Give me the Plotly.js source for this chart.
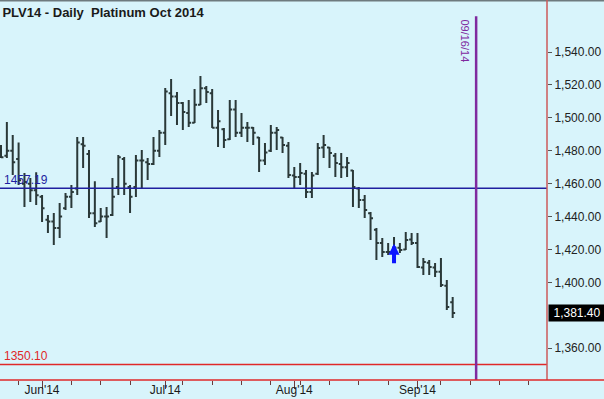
<!DOCTYPE html>
<html><head><meta charset="utf-8">
<script src="https://cdn.plot.ly/plotly-3.0.1.min.js"></script>
<style>html,body{margin:0;padding:0;background:#d8f4fb;}#chart{width:604px;height:399px;}</style>
</head><body><div id="chart"></div>
<script>
// Trading days shown (May 21 – Sep 10, 2014)
const dates = [
 "2014-05-21","2014-05-22","2014-05-23","2014-05-27","2014-05-28","2014-05-29","2014-05-30",
 "2014-06-02","2014-06-03","2014-06-04","2014-06-05","2014-06-06","2014-06-09","2014-06-10","2014-06-11","2014-06-12","2014-06-13",
 "2014-06-16","2014-06-17","2014-06-18","2014-06-19","2014-06-20","2014-06-23","2014-06-24","2014-06-25","2014-06-26","2014-06-27","2014-06-30",
 "2014-07-01","2014-07-02","2014-07-03","2014-07-07","2014-07-08","2014-07-09","2014-07-10","2014-07-11","2014-07-14","2014-07-15","2014-07-16",
 "2014-07-17","2014-07-18","2014-07-21","2014-07-22","2014-07-23","2014-07-24","2014-07-25","2014-07-28","2014-07-29","2014-07-30","2014-07-31",
 "2014-08-01","2014-08-04","2014-08-05","2014-08-06","2014-08-07","2014-08-08","2014-08-11","2014-08-12","2014-08-13","2014-08-14","2014-08-15",
 "2014-08-18","2014-08-19","2014-08-20","2014-08-21","2014-08-22","2014-08-25","2014-08-26","2014-08-27","2014-08-28","2014-08-29",
 "2014-09-02","2014-09-03","2014-09-04","2014-09-05","2014-09-08","2014-09-09","2014-09-10"
];
const highs = [1483.5,1497.5,1489.6,1485.0,1466.5,1463.5,1467.0,1453.1,1441.0,1442.2,1448.3,1454.3,1459.2,1488.4,1488.4,1480.5,
 1461.5,1445.2,1445.8,1463.5,1477.4,1476.2,1459.2,1477.4,1480.5,1475.6,1488.4,1492.6,1518.1,1523.6,1515.7,1509.6,
 1510.8,1517.5,1525.4,1519.3,1517.5,1504.8,1493.8,1510.8,1510.8,1502.9,1497.5,1494.4,1488.4,1484.7,1495.6,1494.4,
 1488.4,1485.3,1470.1,1472.6,1468.3,1467.1,1484.7,1489.6,1482.3,1478.6,1478.6,1476.2,1468.3,1458.0,1453.1,1442.8,
 1433.1,1427.0,1424.0,1427.6,1424.0,1430.7,1430.0,1430.0,1414.9,1413.6,1411.8,1414.9,1401.5,1391.2];
const lows = [1475.6,1475.6,1465.3,1459.2,1445.8,1448.9,1447.0,1436.7,1430.0,1422.8,1427.0,1444.0,1445.2,1453.1,1469.5,1439.2,
 1433.7,1436.7,1427.0,1440.4,1453.1,1453.1,1442.2,1451.9,1457.4,1462.2,1471.4,1476.2,1483.5,1501.1,1495.6,1492.6,
 1494.4,1496.9,1507.8,1509.0,1493.8,1482.3,1481.7,1486.5,1488.4,1488.4,1485.3,1483.5,1467.1,1471.4,1479.3,1480.5,
 1478.6,1463.5,1457.4,1459.2,1451.3,1451.3,1465.3,1475.6,1469.5,1464.1,1463.5,1464.1,1445.8,1445.2,1439.2,1425.8,
 1413.6,1415.5,1416.7,1417.9,1417.9,1419.7,1422.8,1408.8,1404.5,1404.5,1403.3,1397.2,1383.3,1378.4];
const closes = [1476,1480,1473,1462,1461,1456,1453,1445,1437,1433,1440,1452,1455,1485,1483,1442,
 1436,1440,1440,1452,1476,1460,1452,1474,1474,1472,1480,1491,1516,1513,1509,1503.5,
 1497,1508,1518,1515.7,1494,1498,1486.5,1505,1491,1494,1494,1491,1474,1479,1491,1492.6,
 1483.5,1465.3,1464,1466.5,1455,1465,1481.7,1483.5,1478.6,1472.6,1470,1472.6,1458,1450,1444,1439,
 1424,1418.5,1418.5,1421,1419.7,1425.8,1424,1409.4,1412.4,1409.4,1406.5,1398.5,1385,1381.4];
const opens = [1480,1477,1480,1475,1460,1460,1456,1452,1438,1437,1433,1445,1452,1457,1484,1478,
 1442,1437,1440,1441,1458,1475,1458,1458,1474,1473,1472,1480,1491,1515,1513,1509,
 1503,1497,1508,1518,1515,1494,1493,1487,1505,1491,1494,1494,1488,1474,1480,1491,
 1488,1483,1465,1464,1466,1455,1466,1482,1482,1477,1472,1470,1468,1457,1450,1442,
 1432,1424,1418.5,1418.5,1421,1420,1426,1424,1409,1412,1409,1406.5,1398,1388];

const monthTickIdx = [7, 28, 50, 71];
const monthTickLabels = ["Jun'14", "Jul'14", "Aug'14", "Sep'14"];
const weekTickIdx = [3, 12, 17, 22, 31, 36, 41, 46, 51, 56, 61, 66, 75, 80, 85, 90];
const priceTicks = [1360, 1400, 1420, 1440, 1460, 1480, 1500, 1520, 1540];
const levelBlue = 1457.19;
const levelRed = 1350.10;
const lastPrice = 1381.40;
const markerLineIdx = 81;
const markerLineLabel = "09/16/14";
const arrowIdx = 67;
const arrowPrice = 1423.5;
const titleText = "PLV14 - Daily  Platinum Oct 2014";

const xIdx = dates.map((d, i) => i);
const FONT = "Arial, 'Liberation Sans', sans-serif";
const BG = "#d8f4fb";

const trace = {
  type: "ohlc", x: xIdx, open: opens, high: highs, low: lows, close: closes,
  increasing: {line: {color: "#2a3838", width: 2}},
  decreasing: {line: {color: "#2a3838", width: 2}},
  tickwidth: 0.42, hoverinfo: "skip", showlegend: false
};

const layout = {
  width: 604, height: 399,
  margin: {l: 0, r: 57, t: 0, b: 19, pad: 0},
  paper_bgcolor: BG, plot_bgcolor: BG,
  showlegend: false, hovermode: false,
  title: {text: "<b>" + titleText + "</b>", x: 0.004, xanchor: "left", y: 0.97, yanchor: "middle",
          font: {family: FONT, size: 13, color: "#1a1a1a"}},
  xaxis: {
    range: [-0.17, 93.08], showgrid: false, zeroline: false, showline: false,
    rangeslider: {visible: false}, fixedrange: true,
    tickmode: "array", tickvals: monthTickIdx, ticktext: monthTickLabels,
    ticks: "outside", ticklen: 8, tickwidth: 1, tickcolor: "#6a3a3a",
    ticklabelstandoff: -9,
    tickfont: {family: FONT, size: 12, color: "#1a1a1a"},
    minor: {tickmode: "array", tickvals: weekTickIdx, ticks: "outside", ticklen: 4, tickwidth: 1, tickcolor: "#6a3a3a", showgrid: false}
  },
  yaxis: {
    side: "right", range: [1340.7, 1571.6], showgrid: false, zeroline: false, showline: false,
    tickmode: "array", tickvals: priceTicks, tickformat: ",.2f",
    ticks: "outside", ticklen: 4, tickwidth: 1, tickcolor: "#555",
    tickfont: {family: FONT, size: 12, color: "#222"}, fixedrange: true
  },
  shapes: [
    {type: "line", xref: "paper", yref: "paper", x0: 0, x1: 1.2, y0: 1, y1: 1, line: {color: "#6e7a7e", width: 3}},
    {type: "line", xref: "paper", yref: "y", x0: 0, x1: 1, y0: levelBlue, y1: levelBlue, line: {color: "#1f1f9f", width: 1.5}},
    {type: "line", xref: "paper", yref: "y", x0: 0, x1: 1, y0: levelRed, y1: levelRed, line: {color: "#e02828", width: 1.5}},
    {type: "line", xref: "x", yref: "paper", x0: markerLineIdx, x1: markerLineIdx, y0: 0, y1: 0.957, line: {color: "#7f2a9f", width: 2.5}},
    {type: "line", xref: "paper", yref: "paper", x0: 1, x1: 1, y0: 0, y1: 1, line: {color: "#cc5a5a", width: 1.5}},
    {type: "line", xref: "paper", yref: "paper", x0: 0, x1: 1.2, y0: 0, y1: 0, line: {color: "#e02828", width: 1.5}}
  ],
  annotations: [
    {xref: "paper", yref: "y", x: 0.003, y: levelBlue, xanchor: "left", yanchor: "bottom", yshift: -1,
     text: levelBlue.toFixed(2), showarrow: false, font: {family: FONT, size: 12, color: "#1f1fa0"}},
    {xref: "paper", yref: "y", x: 0.003, y: levelRed, xanchor: "left", yanchor: "bottom", yshift: 0,
     text: levelRed.toFixed(2), showarrow: false, font: {family: FONT, size: 12, color: "#e02828"}},
    {xref: "paper", yref: "y", x: 1, y: lastPrice, xanchor: "left", yanchor: "middle", xshift: 1,
     text: lastPrice.toLocaleString("en-US", {minimumFractionDigits: 2}), showarrow: false, width: 54, align: "center",
     bgcolor: "#000000", borderpad: 1, font: {family: FONT, size: 12, color: "#ffffff"}},
    {xref: "x", yref: "paper", x: markerLineIdx, y: 0.955, xanchor: "right", yanchor: "top", xshift: -3,
     text: markerLineLabel, textangle: 90, showarrow: false, font: {family: FONT, size: 11, color: "#7f2a9f"}},
    {xref: "x", yref: "y", x: arrowIdx, y: arrowPrice, ax: 0, ay: 21, text: "", showarrow: true,
     arrowhead: 2, arrowsize: 0.55, arrowwidth: 4, arrowcolor: "#0a14ff", standoff: 0}
  ]
};

Plotly.newPlot("chart", [trace], layout, {staticPlot: true, displayModeBar: false});
</script></body></html>
